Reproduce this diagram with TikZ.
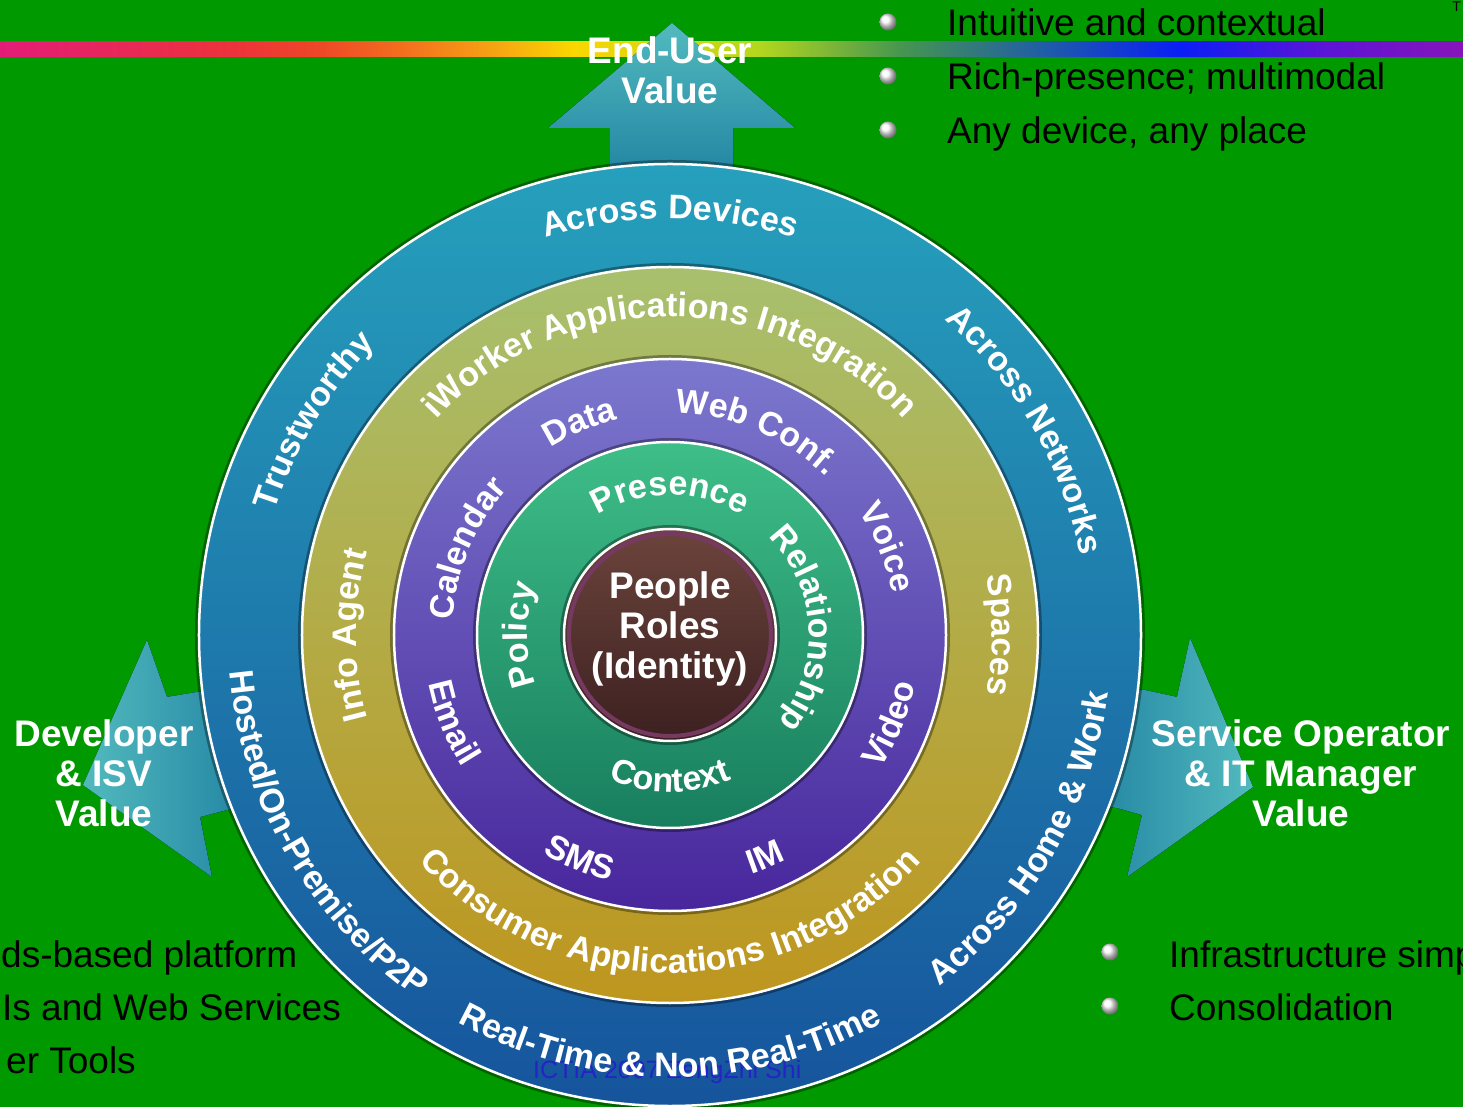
\documentclass[tikz,border=0pt]{standalone}
\usepackage{fontspec}
\setmainfont{Liberation Sans}
\usepackage{xcolor}
\usepackage{tikz}
\usetikzlibrary{shapes, decorations.text}

\definecolor{bggreen}{RGB}{0,153,0}
\definecolor{outertop}{RGB}{38,160,188}
\definecolor{outerbot}{RGB}{22,84,156}
\definecolor{goldtop}{RGB}{168,192,110}
\definecolor{goldbot}{RGB}{190,150,30}
\definecolor{purpletop}{RGB}{124,120,206}
\definecolor{purplebot}{RGB}{72,38,156}
\definecolor{greentop}{RGB}{62,190,136}
\definecolor{greenbot}{RGB}{24,126,94}
\definecolor{browntop}{RGB}{108,68,60}
\definecolor{brownbot}{RGB}{60,32,32}
\definecolor{brownrim}{RGB}{118,58,98}
\definecolor{arrowlight}{RGB}{82,186,190}
\definecolor{arrowdark}{RGB}{22,120,156}
\definecolor{markblue}{RGB}{36,36,196}
\definecolor{rb0}{RGB}{228,28,120}
\definecolor{rb1}{RGB}{236,50,60}
\definecolor{rb2}{RGB}{238,70,40}
\definecolor{rb3}{RGB}{242,110,30}
\definecolor{rb4}{RGB}{246,160,20}
\definecolor{rb5}{RGB}{250,215,0}
\definecolor{rb6}{RGB}{180,215,30}
\definecolor{rb7}{RGB}{70,150,80}
\definecolor{rb8}{RGB}{30,90,170}
\definecolor{rb9}{RGB}{10,30,245}
\definecolor{rb10}{RGB}{90,20,215}
\definecolor{rb11}{RGB}{135,20,185}

\pgfdeclarehorizontalshading{rainbow}{100bp}{color(0bp)=(rb0); color(25bp)=(rb0); color(32.9bp)=(rb1); color(35.8bp)=(rb2); color(38.7bp)=(rb3); color(41.7bp)=(rb4); color(44.6bp)=(rb5); color(50.9bp)=(rb6); color(55.8bp)=(rb7); color(60.9bp)=(rb8); color(65.3bp)=(rb9); color(70.1bp)=(rb10); color(75bp)=(rb11); color(100bp)=(rb11)}

\tikzstyle{ring} = [draw=white, line width=2.5, preaction={draw=black, draw opacity=0.35, line width=8}]
\tikzstyle{valuearrow} = [draw=none]
\tikzstyle{bigtext} = [text=white, font=\fontsize{37}{40}\selectfont\bfseries, align=center, inner sep=0pt]
\tikzstyle{bullet} = [circle, inner sep=0pt, minimum size=17, ball color=gray!5]
\tikzstyle{item} = [anchor=base west, inner sep=0pt, text=black, font=\fontsize{37}{40}\selectfont]

\newcommand{\ringfont}{\fontsize{34}{34}\selectfont\bfseries\color{white}}
% radius, middle angle, half span, text
\newcommand{\cwlabel}[4]{\path[decorate, decoration={text along path, text align=center, text={|\ringfont|#4}}] (#2+#3:#1) arc[start angle=#2+#3, end angle=#2-#3, radius=#1];}
\newcommand{\ccwlabel}[4]{\path[decorate, decoration={text along path, text align=center, text={|\ringfont|#4}}] (#2-#3:#1) arc[start angle=#2-#3, end angle=#2+#3, radius=#1];}

\begin{document}
\begin{tikzpicture}[x=1pt, y=1pt]
    \useasboundingbox (-670,-472) rectangle (793,635);
    \clip (-670,-472) rectangle (793,635);
    \fill[bggreen] (-670,-472) rectangle (793,635);
    \fill[shading=rainbow] (-670,578) rectangle (793,593);

    % value arrows
    \fill[valuearrow, top color=arrowlight, bottom color=arrowdark] (-60,420) -- (-60,507) -- (-122,507) -- (2,612) -- (125,507) -- (63,507) -- (63,420) -- cycle;
    \fill[valuearrow, left color=arrowlight, right color=arrowdark] (-400,-50) -- (-473,-57) -- (-503,-62) -- (-523,-5) -- (-587,-150) -- (-458,-242) -- (-470,-182) -- (-443,-175) -- (-380,-165) -- cycle;
    \fill[valuearrow, left color=arrowdark, right color=arrowlight] (400,-50) -- (475,-55) -- (507,-62) -- (520,-3) -- (583,-152) -- (457,-242) -- (472,-180) -- (447,-173) -- (380,-165) -- cycle;

    % rings
    \path[ring, top color=outertop, bottom color=outerbot] (0,0) circle (471);
    \path[ring, top color=goldtop, bottom color=goldbot] (0,0) circle (368);
    \path[ring, top color=purpletop, bottom color=purplebot] (0,0) circle (276);
    \path[ring, top color=greentop, bottom color=greenbot] (0,0) circle (193);
    \path[ring, top color=browntop, bottom color=brownbot] (0,0) circle (106);
    \draw[brownrim, line width=4] (0,0) circle (101);

    \node (mark) [anchor=base west, inner sep=0pt, text=markblue, font=\fontsize{25}{25}\selectfont] at (-137,-443) {ICTIA 2007 ZengZhi Shi};

    \cwlabel{416}{90}{60}{Across Devices}
    \cwlabel{418}{30}{45}{Across Networks}
    \cwlabel{414}{149}{40}{Trustworthy}
    \ccwlabel{442}{-30}{45}{Across Home {\&} Work}
    \ccwlabel{442}{-90}{60}{Real-Time {\&} Non Real-Time}
    \ccwlabel{442}{-150}{45}{Hosted/On-Premise/P2P}

    \cwlabel{318}{90}{65}{iWorker Applications Integration}
    \cwlabel{314}{180}{40}{Info Agent}
    \cwlabel{322}{0}{40}{Spaces}
    \ccwlabel{338}{-90}{65}{Consumer Applications Integration}

    \cwlabel{222}{113}{30}{Data}
    \cwlabel{222}{67}{40}{Web Conf.}
    \cwlabel{218}{157}{35}{Calendar}
    \cwlabel{226}{22}{30}{Voice}
    \ccwlabel{246}{-158}{30}{Email}
    \ccwlabel{250}{-22}{30}{Video}
    \ccwlabel{253}{-112}{25}{SMS}
    \ccwlabel{253}{-67}{25}{IM}

    \cwlabel{140}{90}{50}{Presence}
    \cwlabel{139}{3}{60}{Relationship}
    \cwlabel{143}{180}{40}{Policy}
    \ccwlabel{157}{-90}{40}{Context}

    \node (people) [bigtext] at (0,6) {People\\Roles\\(Identity)};
    \node (enduser) [bigtext] at (0,565) {End-User\\Value};
    \node (developer) [bigtext] at (-566,-138) {Developer\\\& ISV\\Value};
    \node (operator) [bigtext] at (631,-138) {Service Operator\\\& IT Manager\\Value};

    % bullet lists
    \node (dot1) [bullet] at (218,613) {};
    \node (dot2) [bullet] at (218,559) {};
    \node (dot3) [bullet] at (218,505) {};
    \node (intuitive) [item] at (277,599) {Intuitive and contextual};
    \node (presence) [item] at (277,545) {Rich-presence; multimodal};
    \node (anydevice) [item] at (277,491) {Any device, any place};

    \node (dot4) [bullet] at (440,-317) {};
    \node (dot5) [bullet] at (440,-371) {};
    \node (infra) [item] at (499,-332) {Infrastructure simp};
    \node (consol) [item] at (499,-385) {Consolidation};

    \node (platform) [item] at (-669,-332) {ds-based platform};
    \node (services) [item] at (-668,-385) {Is and Web Services};
    \node (tools) [item] at (-664,-438) {er Tools};

    \node (corner) [anchor=north east, inner sep=0pt, font=\fontsize{14}{14}\selectfont] at (791,633) {T};
\end{tikzpicture}
\end{document}
